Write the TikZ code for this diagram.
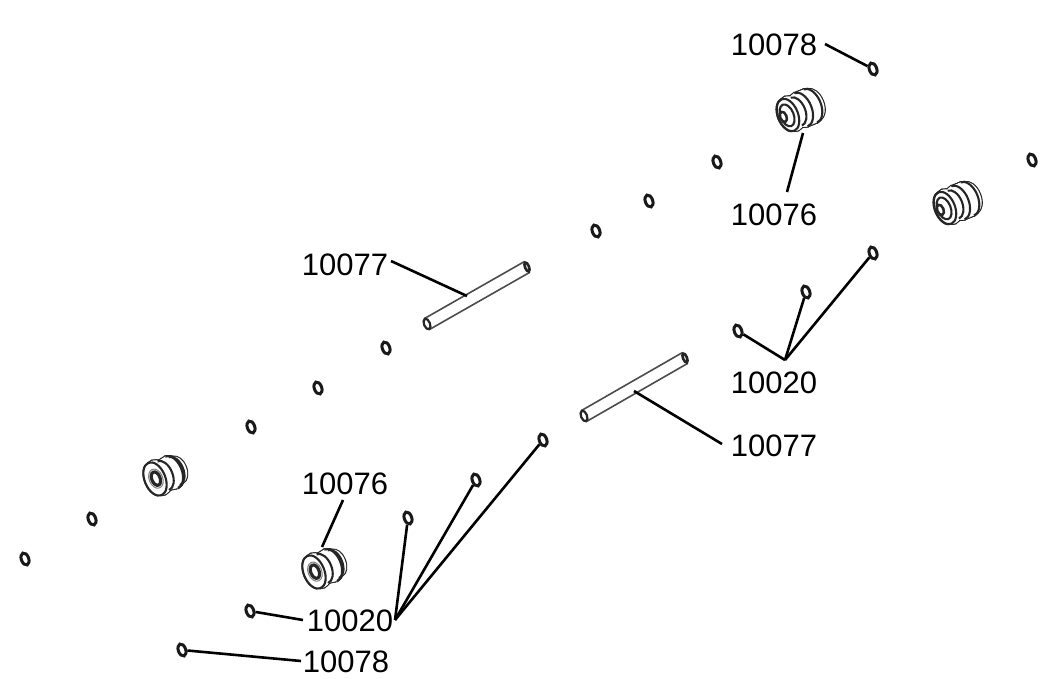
\documentclass[tikz,border=0pt]{standalone}
\usepackage{fontspec}
\setmainfont{Liberation Sans}
\usetikzlibrary{shapes.geometric}
\tikzset{
  ringpart/.style={draw=black!90,line width=3pt,ellipse,inner sep=0pt,minimum width=7.4pt,minimum height=12.5pt,rotate=20},
  partlabel/.style={inner sep=1.5pt,font=\fontsize{31}{31}\selectfont,text=black},
  leader/.style={draw=black,line width=2.6pt},
  rline/.style={draw=black!85,line width=2.1pt},
  shaftline/.style={draw=black!70,line width=1.6pt},
}
\newcommand\rollerbody[4]{%
\begin{scope}[shift={(#1,#2)},rotate=22,x=1pt,y=1pt]
  \foreach \ua/\ra/\ub/\rb in {#3}{\foreach \t in {0,0.25,0.5,0.75,1}{
    \pgfmathsetmacro\uu{\ua+\t*(\ub-\ua)}\pgfmathsetmacro\rr{\ra+\t*(\rb-\ra)}
    \draw[rline,line width=2.3pt] (\uu,0) ellipse [x radius=0.6*\rr,y radius=\rr];}}
  \foreach \ua/\ra/\ub/\rb in {#3}{\foreach \t in {0,0.25,0.5,0.75,1}{
    \pgfmathsetmacro\uu{\ua+\t*(\ub-\ua)}\pgfmathsetmacro\rr{\ra+\t*(\rb-\ra)}
    \fill[white] (\uu,0) ellipse [x radius=0.6*\rr,y radius=\rr];}}
  \foreach \u/\r in {#4}{
    \draw[rline] (\u,-\r) arc [start angle=-90,end angle=90,x radius=0.6*\r,y radius=\r];}
\end{scope}}
\newcommand\rollerface[5]{%
\begin{scope}[shift={(#1,#2)},rotate=22,x=1pt,y=1pt]
  \draw[rline,fill=white] (#3,0) ellipse [x radius=#4,y radius=#5];
\end{scope}}
\newcommand\rollerstub[2]{%
  \rollerbody{#1}{#2}{0/17/4/18,4/18/9/15,9/15/14/18,14/18/24/18,24/18/28/16}{9/15,14/18,24/18}
  \rollerface{#1}{#2}{0}{10}{17}
  \rollerface{#1}{#2}{-1}{6.6}{11.5}
  \begin{scope}[shift={(#1,#2)},rotate=22,x=1pt,y=1pt]
   \draw[rline,line width=2.5pt,fill=white] (-5,0) ellipse [x radius=3.2,y radius=5.4];
  \end{scope}}
\newcommand\rollerhole[2]{%
  \rollerbody{#1}{#2}{0/17/4/18,4/18/9/15.5,9/15.5/18/17,18/17/21/15,21/15/25/13.5}{9/15.5,18/17,21/15}
  \rollerface{#1}{#2}{0}{10.4}{17.5}
  \begin{scope}[shift={(#1,#2)},rotate=22,x=1pt,y=1pt]
   \draw[draw=black!85,line width=3.2pt,fill=white] (1,0) ellipse [x radius=4.2,y radius=7];
   \draw[draw=black!50,line width=1pt] (1,0) ellipse [x radius=6.8,y radius=10];
  \end{scope}}
\newcommand\shaftpart[4]{%
  \fill[white] ([shift={(-3.2,-5)}]#1,#2) -- ([shift={(-3.2,-5)}]#3,#4) -- ([shift={(3.2,5)}]#3,#4) -- ([shift={(3.2,5)}]#1,#2) -- cycle;
  \draw[shaftline] ([shift={(-3,-5.2)}]#1,#2) -- ([shift={(-3,-5.2)}]#3,#4);
  \draw[shaftline] ([shift={(3,5.2)}]#1,#2) -- ([shift={(3,5.2)}]#3,#4);
  \draw[draw=black!85,line width=2.6pt,fill=white,rotate around={22:(#3,#4)}] (#3,#4) ellipse [x radius=2pt,y radius=4.8pt];
  \draw[draw=black!85,line width=2.2pt,fill=white,rotate around={22:(#1,#2)}] (#1,#2) ellipse [x radius=3pt,y radius=5.6pt];}
\begin{document}
\begin{tikzpicture}[x=1pt,y=-1pt]
\useasboundingbox[fill=white] (0,0) rectangle (1055,678);
\rollerstub{788}{115}
\rollerstub{945}{208}
\rollerhole{155}{479}
\rollerhole{314}{572}
\shaftpart{427}{324}{527}{267}
\shaftpart{584}{416}{685}{358}
\foreach \n/\x/\y in {a/873/69,b/717/162,c/649/201,d/596/231,e/1032/160,f/386/348,g/318/388,h/251/427,i/92/519,j/25/559,k/873/253,l/806/292,m/738/331,n/543/440,o/476/480,p/408/518,q/250/611,r/182/650}
  \node[ringpart] (ring\n) at (\x,\y) {};
\node[partlabel] (lA) at (774,45) {10078};
\node[partlabel] (lB) at (774,215) {10076};
\node[partlabel] (lC) at (345,265) {10077};
\node[partlabel] (lD) at (774,383) {10020};
\node[partlabel] (lE) at (774,446) {10077};
\node[partlabel] (lF) at (345,484) {10076};
\node[partlabel] (lG) at (350,621) {10020};
\node[partlabel] (lH) at (346,662) {10078};
\coordinate (rollerA) at (803,133);
\coordinate (rollerD) at (322,547);
\coordinate (shaftL) at (467,296);
\coordinate (shaftR) at (634,391);
\coordinate (hubD) at (785,360);
\coordinate (hubG) at (395,620);
\coordinate (startB) at (787,192);
\coordinate (startF) at (343,500);
\coordinate (startC) at (391,261);
\coordinate (startE) at (722,444);
\coordinate (startA) at (825,44);
\coordinate (startG) at (303,620);
\coordinate (startH) at (301,661);
\draw[leader] (startA) -- (ringa);
\draw[leader] (startB) -- (rollerA);
\draw[leader] (startC) -- (shaftL);
\draw[leader] (hubD) -- (ringm);
\draw[leader] (hubD) -- (ringl);
\draw[leader] (hubD) -- (ringk);
\draw[leader] (startE) -- (shaftR);
\draw[leader] (startF) -- (rollerD);
\draw[leader] (hubG) -- (ringp);
\draw[leader] (hubG) -- (ringo);
\draw[leader] (hubG) -- (ringn);
\draw[leader] (startG) -- (ringq);
\draw[leader] (startH) -- (ringr);
\end{tikzpicture}
\end{document}
